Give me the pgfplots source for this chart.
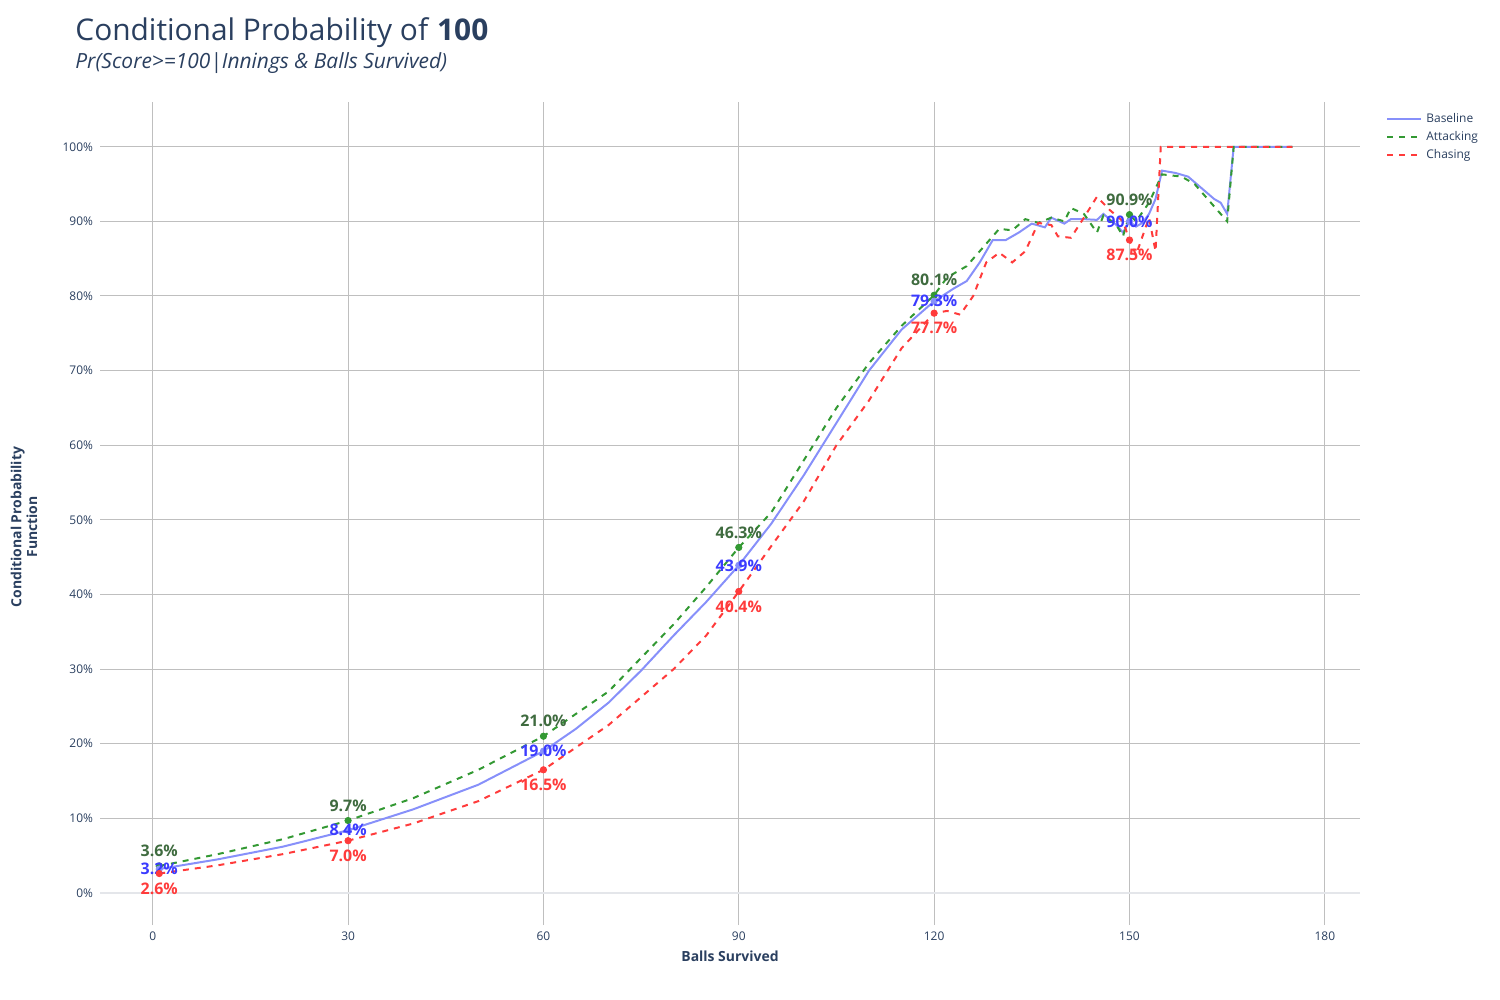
\documentclass[border=0pt]{standalone}
\usepackage{pgfplots}
\pgfplotsset{compat=1.18}
\usepackage{fontspec}
\setmainfont{Open Sans}
\definecolor{txt}{HTML}{2A3F5F}
\definecolor{bl}{HTML}{8790FA}
\definecolor{gr}{HTML}{339933}
\definecolor{rd}{HTML}{FF3B3B}
\definecolor{gl}{HTML}{3F6B3F}
\definecolor{bll}{HTML}{3B3BFF}
\definecolor{grid}{HTML}{DCDCE0}
\begin{document}
\begin{tikzpicture}
\useasboundingbox (-50bp,-37.5bp) rectangle (700bp,462.5bp);
\begin{axis}[scale only axis, width=630bp, height=411.5bp, at={(0,0)}, anchor=south west,
 xmin=-8.1, xmax=185.4, ymin=-4.3, ymax=106,
 xtick={0,30,...,180}, ytick={0,10,...,100},
 yticklabel={\pgfmathprintnumber{\tick}\%},
 /pgf/number format/assume math mode=true,
 tick label style={font=\fontsize{6}{7}\selectfont, text=txt},
 grid=major, grid style={grid, line width=0.5pt},
 axis line style={draw=none}, major tick length=0pt,
 xlabel={\bfseries Balls Survived}, xlabel style={font=\fontsize{7}{8}\selectfont, text=txt, yshift=2bp},
 ylabel={}, clip=false,
 legend style={at={(640bp,410bp)}, anchor=north west, draw=none, font=\fontsize{6}{7}\selectfont, text=txt, row sep=-1pt},
 legend cell align=left,
]
\draw[grid!70!txt!30, line width=0.6pt] (axis cs:-8.1,0) -- (axis cs:185.4,0);
\addplot[bl, line width=1pt, mark=none] coordinates {(1,3.2)(10,4.5)(20,6.2)(30,8.4)(40,11.2)(50,14.5)(60,19.0)(65,22)(70,25.5)(75,29.8)(80,34.5)(85,39)(90,43.9)(95,49.5)(100,56)(105,63)(110,70)(115,75.5)(120,79.3)(123,81)(125,82)(127,84.5)(129,87.5)(131,87.5)(133,88.5)(135,89.7)(137,89.2)(138,90.5)(140,89.7)(141,90.3)(143,90.3)(145,90.2)(146,91)(148,89.5)(149,88.5)(150,90)(151,89.3)(152,89.8)(153,91)(154,93)(155,96.8)(157,96.5)(159,96)(161,94.5)(163,93)(164,92.5)(165,91)(166,100)(175,100)};
\addlegendentry{Baseline}
\addplot[gr, line width=1pt, dashed, mark=none] coordinates {(1,3.6)(10,5.2)(20,7.2)(30,9.7)(40,12.7)(50,16.5)(60,21.0)(70,27)(80,36)(85,41)(90,46.3)(95,51)(100,58)(105,65)(110,71)(115,76)(120,80.1)(122,82.5)(125,84)(128,87)(130,89)(132,88.8)(134,90.3)(136,89.8)(138,90.5)(140,90)(141,91.8)(143,91)(145,88.5)(146,90.8)(148,89.5)(149,88)(150,90.9)(151,90)(153,92.5)(155,96.3)(158,96)(160,95)(163,92)(165,90)(166,100)(175,100)};
\addlegendentry{Attacking}
\addplot[rd, line width=1pt, dashed, mark=none] coordinates {(1,2.6)(10,3.7)(20,5.2)(30,7.0)(40,9.3)(50,12.3)(60,16.5)(70,22.5)(80,30)(85,34.5)(90,40.4)(95,46.5)(100,52.5)(105,60)(110,66)(115,73)(120,77.7)(122,78)(124,77.5)(126,80)(128,84.5)(130,85.8)(132,84.5)(134,86)(136,89.8)(138,89.5)(139,88)(141,87.8)(143,90.5)(145,93.3)(147,91.5)(149,90)(150,87.5)(151,85.5)(152,88)(153,90.5)(154,86)(154.8,100)(175,100)};
\addlegendentry{Chasing}
\addplot[only marks, mark=*, mark size=1.6pt, color=gr, forget plot,
 nodes near coords={\pgfmathprintnumber[fixed,precision=1,fixed zerofill]{\pgfplotspointmeta}\%},
 nodes near coords style={font=\bfseries\fontsize{8}{9}\selectfont, text=gl, anchor=south, yshift=1bp}]
 coordinates {(1,3.6)(30,9.7)(60,21.0)(90,46.3)(120,80.1)(150,90.9)};
\addplot[only marks, mark=*, mark size=1.6pt, color=bl, forget plot,
 nodes near coords={\pgfmathprintnumber[fixed,precision=1,fixed zerofill]{\pgfplotspointmeta}\%},
 nodes near coords style={font=\bfseries\fontsize{8}{9}\selectfont, text=bll, anchor=center, yshift=0bp}]
 coordinates {(1,3.2)(30,8.4)(60,19.0)(90,43.9)(120,79.3)(150,90.0)};
\addplot[only marks, mark=*, mark size=1.6pt, color=rd, forget plot,
 nodes near coords={\pgfmathprintnumber[fixed,precision=1,fixed zerofill]{\pgfplotspointmeta}\%},
 nodes near coords style={font=\bfseries\fontsize{8}{9}\selectfont, text=rd, anchor=north, yshift=-1bp}]
 coordinates {(1,2.6)(30,7.0)(60,16.5)(90,40.4)(120,77.7)(150,87.5)};
\end{axis}
\node[anchor=base west, text=txt, font=\fontsize{15}{17}\selectfont, inner sep=0] at (-12.5bp,442bp) {Conditional Probability of \textbf{100}};
\node[anchor=base west, text=txt, font=\itshape\fontsize{10.5}{12}\selectfont, inner sep=0] at (-12.5bp,428bp) {Pr(Score>=100|Innings \& Balls Survived)};
\node[rotate=90, text=txt, font=\bfseries\fontsize{7}{8}\selectfont, align=center] at (-38bp,199bp) {Conditional Probability\\Function};
\end{tikzpicture}
\end{document}
